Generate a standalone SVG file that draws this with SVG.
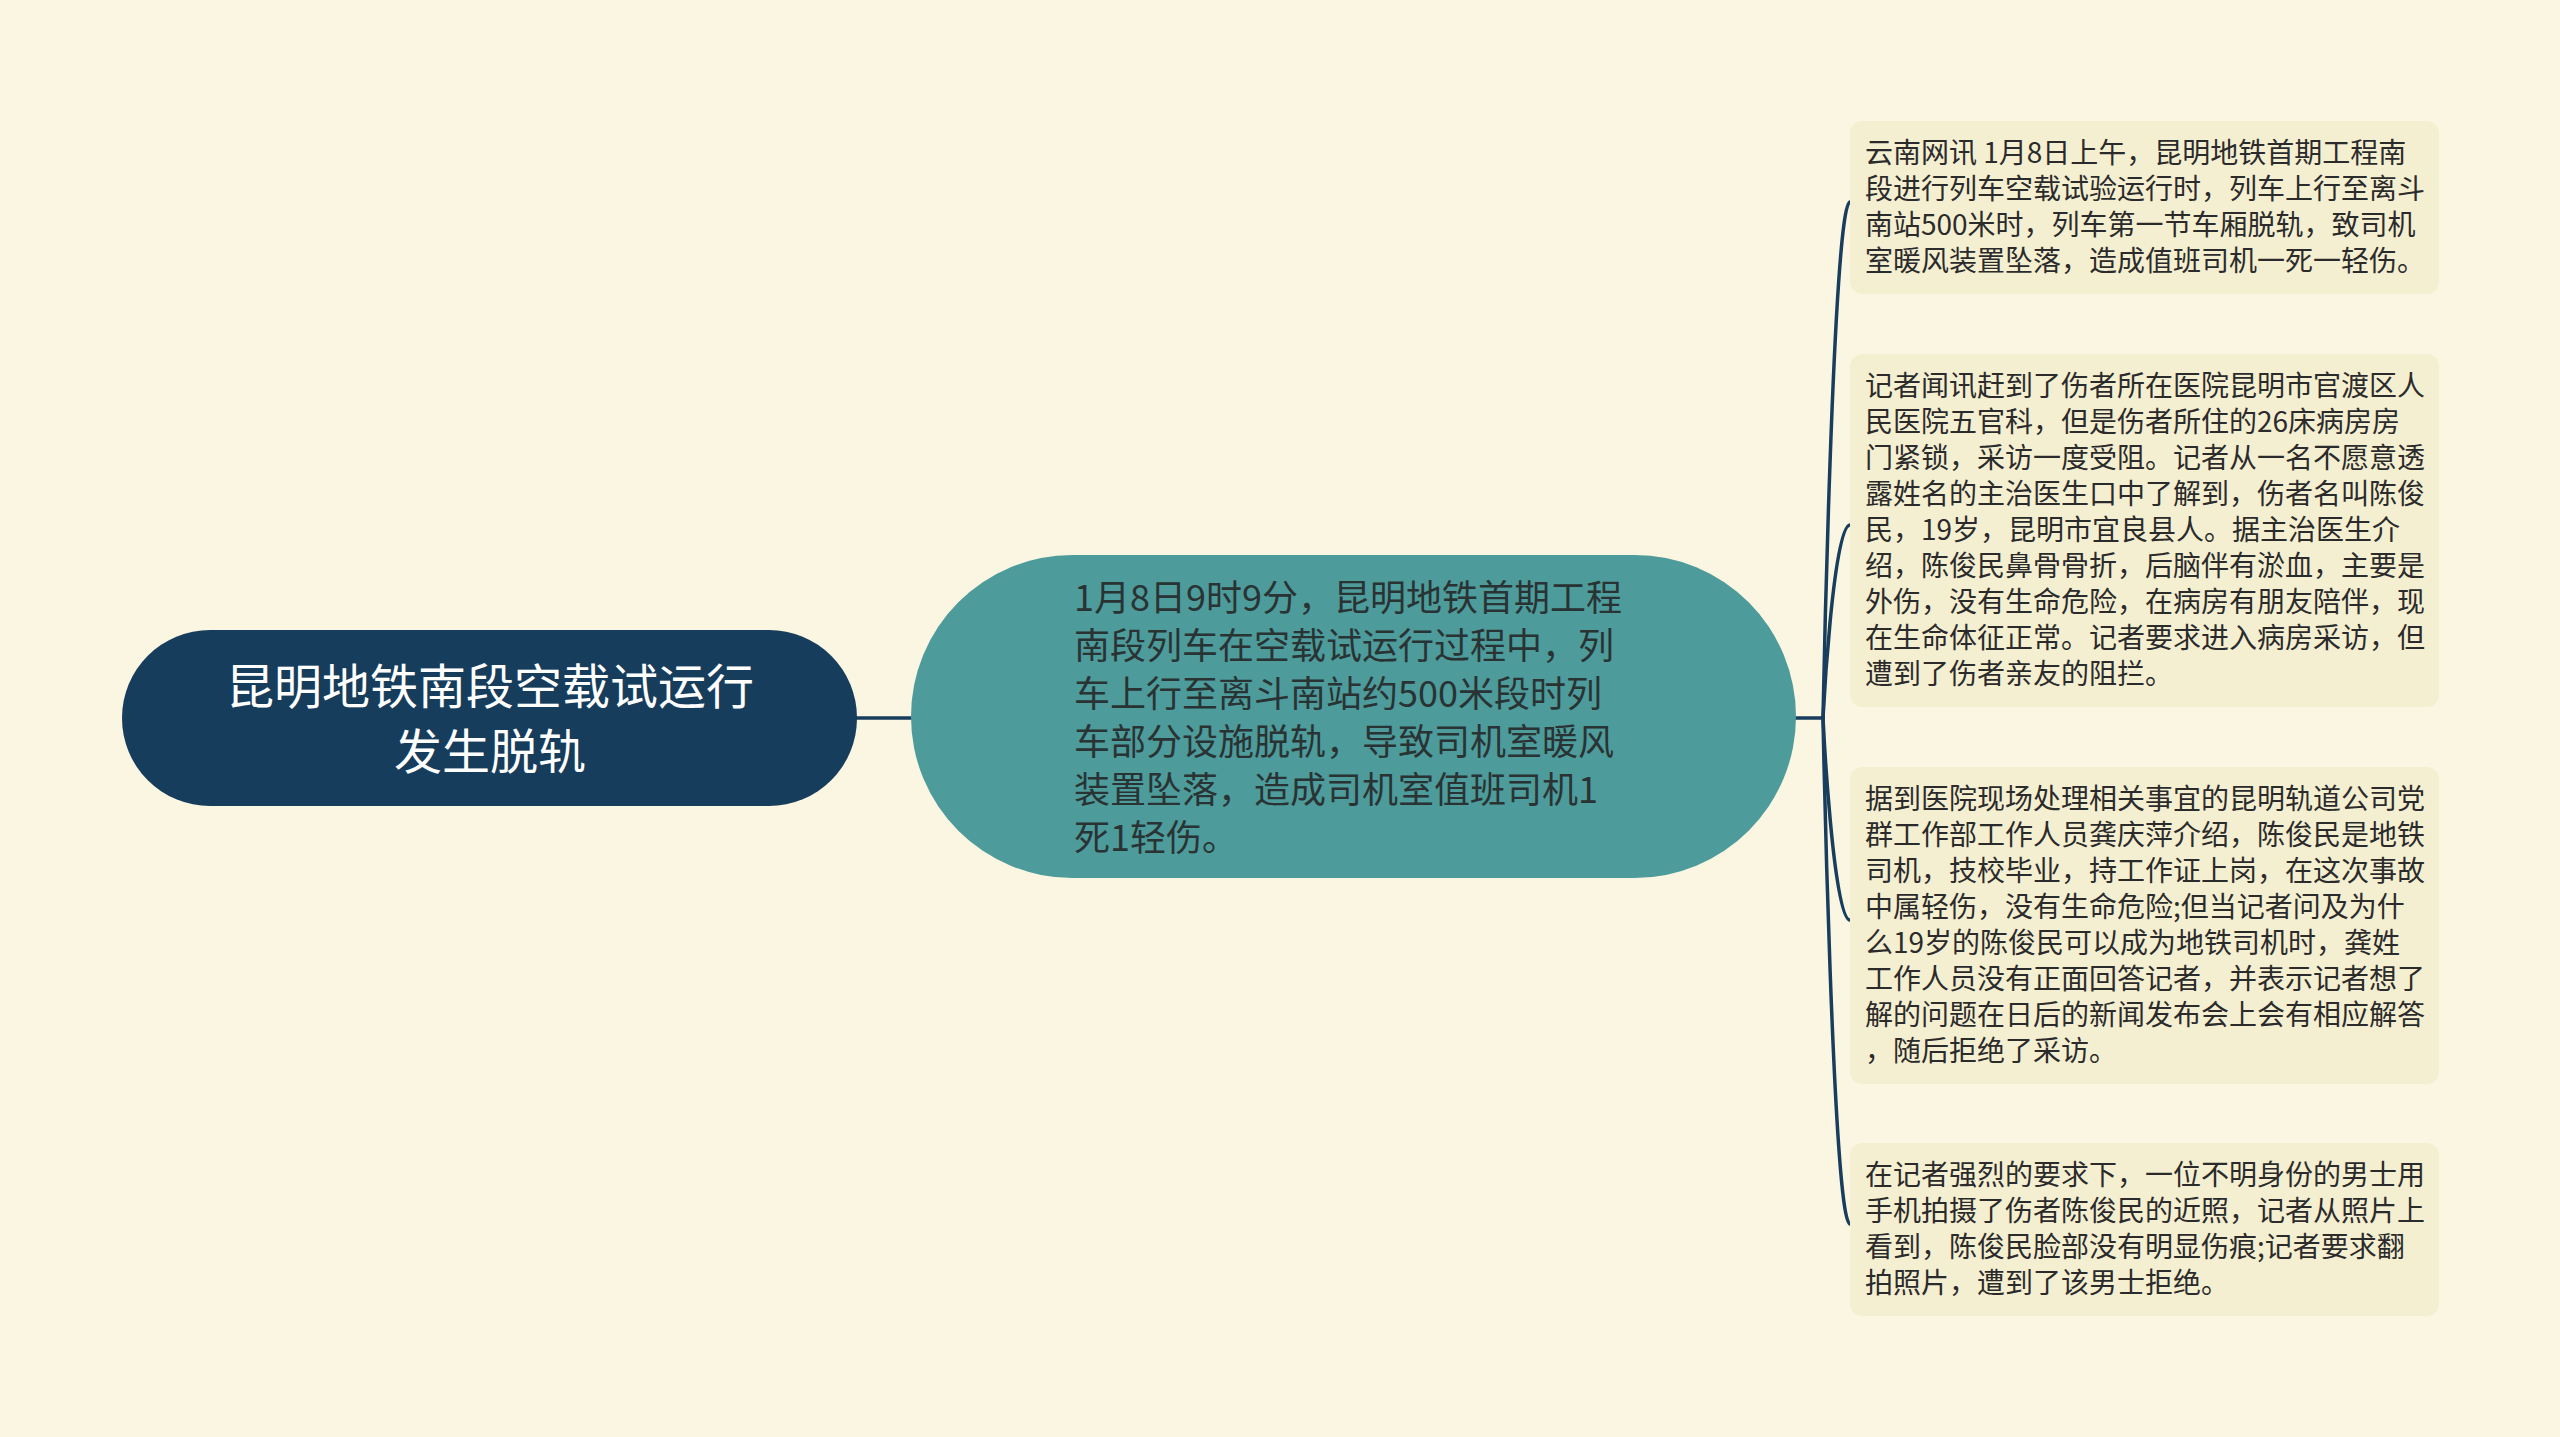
<svg xmlns="http://www.w3.org/2000/svg" width="2560" height="1437" viewBox="0 0 2560 1437">
<style>
.cjk{font-family:"Noto Sans CJK SC","Noto Sans",sans-serif}
.root-t{font-size:48px;fill:#ffffff;text-anchor:middle}
.mid-t{font-size:36px;fill:#2a3333}
.leaf-t{font-size:28px;fill:#2b2b2b}
.leaf{fill:#f5efd2}
.conn{fill:none;stroke:#183d5d;stroke-width:3.5;stroke-linecap:round}
</style>
<rect width="2560" height="1437" fill="#fbf6e2"/>
<g id="connectors">
<line class="conn" x1="855" y1="718" x2="913" y2="718"/>
<line class="conn" x1="1794" y1="718" x2="1823" y2="718"/>
<path class="conn" d="M1823,718 C1823,718 1833,202 1850,202"/>
<path class="conn" d="M1823,718 C1823,718 1833,525 1850,525"/>
<path class="conn" d="M1823,718 C1823,718 1833,920 1850,920"/>
<path class="conn" d="M1823,718 C1823,718 1833,1224 1850,1224"/>
</g>
<g id="root">
<rect x="122" y="630" width="735" height="176" rx="88" fill="#173d5c"/>
<text class="cjk root-t" x="490" y="704">昆明地铁南段空载试运行</text>
<text class="cjk root-t" x="490" y="769">发生脱轨</text>
</g>
<g id="main">
<rect x="911" y="555" width="885" height="323" rx="161.5" fill="#4d9b9b"/>
<text class="cjk mid-t" x="1074" y="611">1月8日9时9分，昆明地铁首期工程</text>
<text class="cjk mid-t" x="1074" y="659">南段列车在空载试运行过程中，列</text>
<text class="cjk mid-t" x="1074" y="707">车上行至离斗南站约500米段时列</text>
<text class="cjk mid-t" x="1074" y="755">车部分设施脱轨，导致司机室暖风</text>
<text class="cjk mid-t" x="1074" y="803">装置坠落，造成司机室值班司机1</text>
<text class="cjk mid-t" x="1074" y="851">死1轻伤。</text>
</g>
<g id="leaf1">
<rect class="leaf" x="1850" y="121" width="589" height="173" rx="12"/>
<text class="cjk leaf-t" x="1865" y="163">云南网讯 1月8日上午，昆明地铁首期工程南</text>
<text class="cjk leaf-t" x="1865" y="199">段进行列车空载试验运行时，列车上行至离斗</text>
<text class="cjk leaf-t" x="1865" y="235">南站500米时，列车第一节车厢脱轨，致司机</text>
<text class="cjk leaf-t" x="1865" y="271">室暖风装置坠落，造成值班司机一死一轻伤。</text>
</g>
<g id="leaf2">
<rect class="leaf" x="1850" y="354" width="589" height="353" rx="12"/>
<text class="cjk leaf-t" x="1865" y="396">记者闻讯赶到了伤者所在医院昆明市官渡区人</text>
<text class="cjk leaf-t" x="1865" y="432">民医院五官科，但是伤者所住的26床病房房</text>
<text class="cjk leaf-t" x="1865" y="468">门紧锁，采访一度受阻。记者从一名不愿意透</text>
<text class="cjk leaf-t" x="1865" y="504">露姓名的主治医生口中了解到，伤者名叫陈俊</text>
<text class="cjk leaf-t" x="1865" y="540">民，19岁，昆明市宜良县人。据主治医生介</text>
<text class="cjk leaf-t" x="1865" y="576">绍，陈俊民鼻骨骨折，后脑伴有淤血，主要是</text>
<text class="cjk leaf-t" x="1865" y="612">外伤，没有生命危险，在病房有朋友陪伴，现</text>
<text class="cjk leaf-t" x="1865" y="648">在生命体征正常。记者要求进入病房采访，但</text>
<text class="cjk leaf-t" x="1865" y="684">遭到了伤者亲友的阻拦。</text>
</g>
<g id="leaf3">
<rect class="leaf" x="1850" y="767" width="589" height="317" rx="12"/>
<text class="cjk leaf-t" x="1865" y="809">据到医院现场处理相关事宜的昆明轨道公司党</text>
<text class="cjk leaf-t" x="1865" y="845">群工作部工作人员龚庆萍介绍，陈俊民是地铁</text>
<text class="cjk leaf-t" x="1865" y="881">司机，技校毕业，持工作证上岗，在这次事故</text>
<text class="cjk leaf-t" x="1865" y="917">中属轻伤，没有生命危险;但当记者问及为什</text>
<text class="cjk leaf-t" x="1865" y="953">么19岁的陈俊民可以成为地铁司机时，龚姓</text>
<text class="cjk leaf-t" x="1865" y="989">工作人员没有正面回答记者，并表示记者想了</text>
<text class="cjk leaf-t" x="1865" y="1025">解的问题在日后的新闻发布会上会有相应解答</text>
<text class="cjk leaf-t" x="1865" y="1061">，随后拒绝了采访。</text>
</g>
<g id="leaf4">
<rect class="leaf" x="1850" y="1143" width="589" height="173" rx="12"/>
<text class="cjk leaf-t" x="1865" y="1185">在记者强烈的要求下，一位不明身份的男士用</text>
<text class="cjk leaf-t" x="1865" y="1221">手机拍摄了伤者陈俊民的近照，记者从照片上</text>
<text class="cjk leaf-t" x="1865" y="1257">看到，陈俊民脸部没有明显伤痕;记者要求翻</text>
<text class="cjk leaf-t" x="1865" y="1293">拍照片，遭到了该男士拒绝。</text>
</g>
</svg>
